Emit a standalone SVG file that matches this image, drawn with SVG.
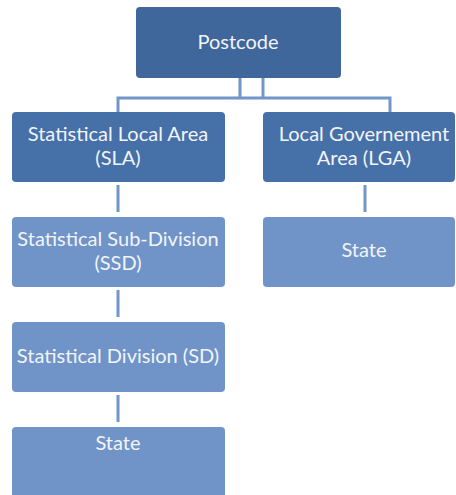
<svg xmlns="http://www.w3.org/2000/svg" width="456" height="495" viewBox="0 0 456 495">
<style>
.dark{fill:#3f679b}
.mid{fill:#4670a8}
.light{fill:#7094c7}
.t{font-family:Lato,"Open Sans","Liberation Sans",sans-serif;font-size:20px;fill:#f2f4f8;text-anchor:middle}
.c{stroke:#7196ca;stroke-width:3;fill:none}
</style>
<rect width="456" height="495" fill="#ffffff"/>
<g id="connectors">
<path class="c" d="M240,78V98M263,78V98M118,98H390M118,96.5V112M390,96.5V112"/>
<path class="c" d="M118,185V212M118,290V317M118,395V422M365,185V212"/>
</g>
<g id="postcode">
<rect class="dark" x="136" y="7" width="205" height="71" rx="4"/>
<text class="t" x="238" y="49">Postcode</text>
</g>
<g id="sla">
<rect class="mid" x="12" y="112" width="213" height="70" rx="4"/>
<text class="t" x="118" y="141">Statistical Local Area</text>
<text class="t" x="118" y="165">(SLA)</text>
</g>
<g id="lga">
<rect class="mid" x="263" y="112" width="192" height="70" rx="4"/>
<text class="t" x="364" y="141">Local Governement</text>
<text class="t" x="364" y="165">Area (LGA)</text>
</g>
<g id="ssd">
<rect class="light" x="12" y="217" width="213" height="70" rx="4"/>
<text class="t" x="118" y="246">Statistical Sub-Division</text>
<text class="t" x="118" y="270">(SSD)</text>
</g>
<g id="state-lga">
<rect class="light" x="263" y="217" width="192" height="70" rx="4"/>
<text class="t" x="364" y="257">State</text>
</g>
<g id="sd">
<rect class="light" x="12" y="322" width="213" height="70" rx="4"/>
<text class="t" x="118" y="363">Statistical Division (SD)</text>
</g>
<g id="state-sd">
<rect class="light" x="12" y="427" width="213" height="75" rx="4"/>
<text class="t" x="118" y="450">State</text>
</g>
</svg>
